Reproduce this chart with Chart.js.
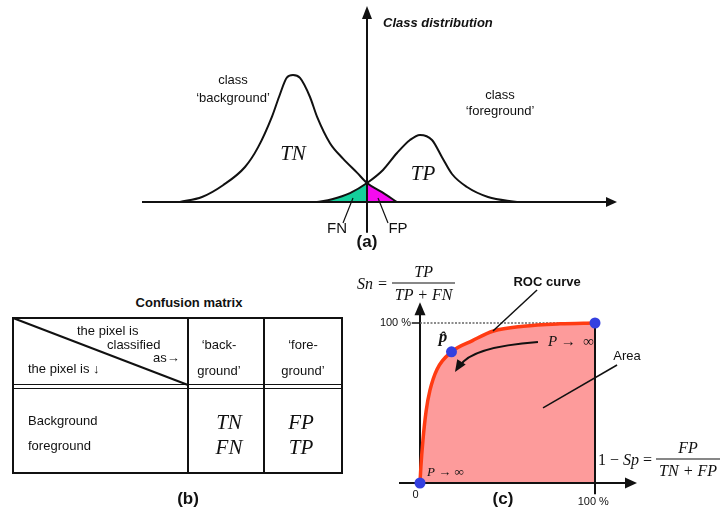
<!DOCTYPE html>
<html>
<head>
<meta charset="utf-8">
<script src="https://cdn.jsdelivr.net/npm/chart.js@4.4.1/dist/chart.umd.min.js"></script>
<style>
  body { margin: 0; background: #fff; font-family: "Liberation Sans", Arial, sans-serif; color: #111; }
  #page { position: relative; width: 725px; height: 508px; overflow: hidden; }
  canvas { position: absolute; }
  .t { position: absolute; white-space: nowrap; font-size: 13px; line-height: 1; }
  .c { transform: translate(-50%, -50%); }
  .m { font-family: "Liberation Serif", "DejaVu Serif", serif; font-style: italic; }
  .eq { position: absolute; display: flex; align-items: center; white-space: nowrap;
        font-family: "Liberation Serif", "DejaVu Serif", serif; font-size: 16px; transform: translateY(-50%); }
  .frac { display: inline-flex; flex-direction: column; align-items: center; margin-left: 4px; }
  .frac .num { padding: 0 3px 2px; }
  .frac .den { border-top: 1px solid #111; padding: 2px 3px 0; }
  .ln { position: absolute; background: #111; }
</style>
</head>
<body>
<div id="page">
  <canvas id="chart-dist" width="725" height="260" style="left:0;top:0"></canvas>
  <canvas id="chart-roc" width="385" height="248" style="left:340px;top:260px"></canvas>
  <div id="matrix"></div>
  <div class="eq" style="left:357px;top:283px;font-style:italic">
    <span>Sn =</span>
    <span class="frac"><span class="num">TP</span><span class="den">TP + FN</span></span>
  </div>
  <div class="eq" style="left:598px;top:459px">
    <span>1 − <i>Sp</i> =</span>
    <span class="frac" style="font-style:italic"><span class="num">FP</span><span class="den">TN + FP</span></span>
  </div>
</div>
<script>
// ---------------- DATA ----------------

// (a) class distributions, threshold at x = 0
const bgX = [-3.74, -3.3, -2.88, -2.44, -2.18, -1.9, -1.76, -1.6, -1.48, -1.34, -1.14, -1.0, -0.74, -0.48, -0.2, 0, 0.3, 0.6];
const bgY = [0, 0.036, 0.12, 0.25, 0.39, 0.61, 0.75, 0.89, 0.907, 0.886, 0.75, 0.61, 0.42, 0.31, 0.21, 0.136, 0.07, 0];
const fgX = [-1.0, -0.7, -0.34, 0, 0.32, 0.6, 0.86, 1.06, 1.3, 1.5, 1.7, 2.0, 2.42, 3.0];
const fgY = [0, 0.02, 0.064, 0.136, 0.229, 0.35, 0.443, 0.479, 0.443, 0.32, 0.2, 0.107, 0.036, 0];

// (b) confusion matrix
const colHeads = [["‘back-", "ground’"], ["‘fore-", "ground’"]];
const rowLabels = ["Background", "foreground"];
const cells = [["TN", "FP"], ["FN", "TP"]];

// (c) ROC curve (x = 1 - Sp, y = Sn)
const rocX = [0, 0.005, 0.017, 0.035, 0.057, 0.097, 0.18, 0.30, 0.42, 0.59, 0.8, 1.0];
const rocY = [0, 0.1, 0.27, 0.45, 0.58, 0.71, 0.82, 0.89, 0.95, 0.98, 0.995, 1.0];
const markX = [0, 0.18, 1];
const markY = [0, 0.82, 1];

const pts = (xs, ys) => xs.map((x, i) => ({ x, y: ys[i] }));

// ---------------- DRAW HELPERS ----------------
function line(ctx, x1, y1, x2, y2) {
  ctx.beginPath(); ctx.moveTo(x1, y1); ctx.lineTo(x2, y2); ctx.stroke();
}
function head(ctx, x, y, ang, len, half) {
  const c = Math.cos(ang), s = Math.sin(ang);
  ctx.beginPath();
  ctx.moveTo(x, y);
  ctx.lineTo(x - len * c + half * s, y - len * s - half * c);
  ctx.lineTo(x - len * c - half * s, y - len * s + half * c);
  ctx.closePath(); ctx.fill();
}
function label(ctx, txt, x, y, font, align) {
  ctx.font = font;
  ctx.textAlign = align || "center";
  ctx.textBaseline = "middle";
  ctx.fillText(txt, x, y);
}

// ---------------- (a) CLASS DISTRIBUTION ----------------
const distDeco = {
  id: "distDeco",
  afterDatasetsDraw(chart) {
    const { ctx, scales: { x, y } } = chart;
    const px = v => x.getPixelForValue(v), py = v => y.getPixelForValue(v);
    ctx.save();
    ctx.strokeStyle = "#111"; ctx.fillStyle = "#111"; ctx.lineWidth = 2;
    line(ctx, px(x.min), py(0), px(x.max) - 8, py(0));
    head(ctx, px(x.max), py(0), 0, 11, 5);
    line(ctx, px(0), py(y.min), px(0), py(y.max) + 8);
    head(ctx, px(0), py(y.max), -Math.PI / 2, 13, 5);

    ctx.lineWidth = 1.2;
    line(ctx, px(-0.48), py(-0.15), px(-0.28), py(0.029));
    line(ctx, px(0.42), py(-0.15), px(0.22), py(0.029));

    const sans = '"Liberation Sans", Arial, sans-serif';
    const serif = '"Liberation Serif", "DejaVu Serif", serif';
    label(ctx, "Class distribution", px(0.32), py(1.279), "italic bold 13px " + sans, "left");
    label(ctx, "class", px(-2.68), py(0.871), "13px " + sans);
    label(ctx, "‘background’", px(-2.68), py(0.743), "13px " + sans);
    label(ctx, "class", px(2.66), py(0.764), "13px " + sans);
    label(ctx, "‘foreground’", px(2.66), py(0.645), "13px " + sans);
    label(ctx, "TN", px(-1.48), py(0.336), "italic 21px " + serif);
    label(ctx, "TP", px(1.12), py(0.2), "italic 21px " + serif);
    label(ctx, "FN", px(-0.6), py(-0.19), "15px " + sans);
    label(ctx, "FP", px(0.62), py(-0.19), "15px " + sans);
    label(ctx, "(a)", px(0), py(-0.285), "bold 17px " + sans);
    ctx.restore();
  }
};

const fgPts = pts(fgX, fgY), bgPts = pts(bgX, bgY);
new Chart(document.getElementById("chart-dist"), {
  type: "line",
  data: {
    datasets: [
      { data: bgPts, borderColor: "#111", borderWidth: 2, fill: false, order: 1 },
      { data: fgPts, borderColor: "#111", borderWidth: 2, fill: false, order: 1 },
      { data: fgPts.filter(p => p.x <= 0), borderWidth: 0, backgroundColor: "#14cf9b", fill: "origin", order: 2 },
      { data: bgPts.filter(p => p.x >= 0), borderWidth: 0, backgroundColor: "#f50af0", fill: "origin", order: 2 }
    ]
  },
  options: {
    responsive: false, animation: false,
    layout: { padding: { left: 142, right: 108, top: 6, bottom: 27.2 } },
    elements: { point: { radius: 0 }, line: { cubicInterpolationMode: "monotone" } },
    scales: {
      x: { type: "linear", min: -4.5, max: 5, display: false },
      y: { type: "linear", min: -0.22, max: 1.4, display: false }
    },
    plugins: { legend: { display: false }, tooltip: { enabled: false } }
  },
  plugins: [distDeco]
});

// ---------------- (b) CONFUSION MATRIX ----------------
function buildMatrix() {
  const m = document.getElementById("matrix");
  let h = "";
  h += '<div class="t c" style="left:189px;top:302px;font-weight:bold">Confusion matrix</div>';
  h += '<div style="position:absolute;left:12px;top:317px;width:331px;height:157px;border:2px solid #111;box-sizing:border-box"></div>';
  h += '<div class="ln" style="left:187px;top:317px;width:2px;height:157px"></div>';
  h += '<div class="ln" style="left:263px;top:317px;width:2px;height:157px"></div>';
  h += '<div class="ln" style="left:12px;top:383.5px;width:331px;height:1.6px"></div>';
  h += '<div class="ln" style="left:12px;top:387.5px;width:331px;height:1.6px"></div>';
  h += '<svg style="position:absolute;left:0;top:0" width="200" height="400"><line x1="13" y1="318" x2="188" y2="385" stroke="#111" stroke-width="2"/></svg>';
  h += '<div class="t" style="left:77px;top:324px">the pixel is</div>';
  h += '<div class="t" style="left:107px;top:338px">classified</div>';
  h += '<div class="t" style="left:153px;top:351px">as→</div>';
  h += '<div class="t" style="left:28px;top:362px">the pixel is ↓</div>';
  const colC = [219, 303];
  colHeads.forEach((hd, j) => {
    h += `<div class="t c" style="left:${colC[j]}px;top:344px">${hd[0]}</div>`;
    h += `<div class="t c" style="left:${colC[j]}px;top:370px">${hd[1]}</div>`;
  });
  const rowY = [420, 445];
  rowLabels.forEach((r, i) => {
    h += `<div class="t" style="left:28px;top:${rowY[i]}px;transform:translateY(-50%)">${r}</div>`;
    cells[i].forEach((v, j) => {
      h += `<div class="t c m" style="left:${colC[j] + (j === 0 ? 10 : -2)}px;top:${rowY[i] + 2}px;font-size:21px">${v}</div>`;
    });
  });
  h += '<div class="t c" style="left:188px;top:498px;font-weight:bold;font-size:17px">(b)</div>';
  m.innerHTML = h;
}
buildMatrix();

// ---------------- (c) ROC CURVE ----------------
const rocDeco = {
  id: "rocDeco",
  afterDatasetDraw(chart, args) {
    if (args.index !== 0) return;
    const { ctx, scales: { x, y } } = chart;
    const px = v => x.getPixelForValue(v), py = v => y.getPixelForValue(v);
    ctx.save();
    ctx.strokeStyle = "#111"; ctx.fillStyle = "#111"; ctx.lineWidth = 2;
    line(ctx, px(x.min), py(0), px(x.max) - 8, py(0));
    head(ctx, px(x.max), py(0), 0, 12, 5.5);
    line(ctx, px(0), py(-0.02), px(0), py(y.max) + 8);
    head(ctx, px(0), py(y.max), -Math.PI / 2, 13, 5.5);
    line(ctx, px(1), py(1), px(1), py(-0.07));
    ctx.lineWidth = 1.5;
    line(ctx, px(-0.047), py(1), px(0), py(1));
    ctx.strokeStyle = "#666"; ctx.setLineDash([2, 1.5]);
    line(ctx, px(0), py(1), px(1), py(1));
    ctx.restore();
  },
  afterDatasetsDraw(chart) {
    const { ctx, scales: { x, y } } = chart;
    const px = v => x.getPixelForValue(v), py = v => y.getPixelForValue(v);
    const sans = '"Liberation Sans", Arial, sans-serif';
    const serif = '"Liberation Serif", "DejaVu Serif", serif';
    ctx.save();
    ctx.strokeStyle = "#111"; ctx.fillStyle = "#111"; ctx.lineWidth = 1.5;
    line(ctx, px(0.669), py(1.206), px(0.417), py(0.95));
    line(ctx, px(1.126), py(0.7375), px(0.703), py(0.469));
    // curved arrow P -> inf
    ctx.lineWidth = 2;
    const sx = px(0.674), sy = py(0.881), cx = px(0.291), cy = py(0.85), ex = px(0.2), ey = py(0.694);
    ctx.beginPath(); ctx.moveTo(sx, sy); ctx.quadraticCurveTo(cx, cy, ex + 5, ey - 6); ctx.stroke();
    head(ctx, ex, ey, Math.atan2(ey - cy, ex - cx), 12, 5);

    label(ctx, "ROC curve", px(0.726), py(1.256), "bold 13px " + sans);
    label(ctx, "Area", px(1.183), py(0.794), "13px " + sans);
    label(ctx, "100 %", px(-0.051), py(1), "11px " + sans, "right");
    label(ctx, "0", px(-0.025), py(-0.075), "11px " + sans);
    label(ctx, "100 %", px(0.99), py(-0.119), "11px " + sans);
    label(ctx, "(c)", px(0.474), py(-0.1), "bold 17px " + sans);
    label(ctx, "p̂", px(0.131), py(0.906), "italic bold 17px " + serif);
    label(ctx, "P →  ∞", px(0.731), py(0.881), "italic 15px " + serif, "left");
    label(ctx, "P → ∞", px(0.04), py(0.0625), "italic 13px " + serif, "left");
    ctx.restore();
  }
};

const rocPts = pts(rocX, rocY);
new Chart(document.getElementById("chart-roc"), {
  type: "line",
  data: {
    datasets: [
      { data: rocPts, borderWidth: 0, backgroundColor: "#fd9b9b", fill: "origin", order: 3 },
      { data: rocPts, borderColor: "#ff3b12", borderWidth: 3.5, fill: false, order: 2 },
      { data: pts(markX, markY), showLine: false, pointRadius: 5.5, pointBackgroundColor: "#3440e0", pointBorderWidth: 0, order: 1 }
    ]
  },
  options: {
    responsive: false, animation: false,
    layout: { padding: { left: 59, right: 88, top: 42.2, bottom: 12.2 } },
    elements: { point: { radius: 0 }, line: { cubicInterpolationMode: "monotone" } },
    scales: {
      x: { type: "linear", min: -0.12, max: 1.24, display: false },
      y: { type: "linear", min: -0.08, max: 1.13, display: false }
    },
    plugins: { legend: { display: false }, tooltip: { enabled: false } }
  },
  plugins: [rocDeco]
});
</script>
</body>
</html>
